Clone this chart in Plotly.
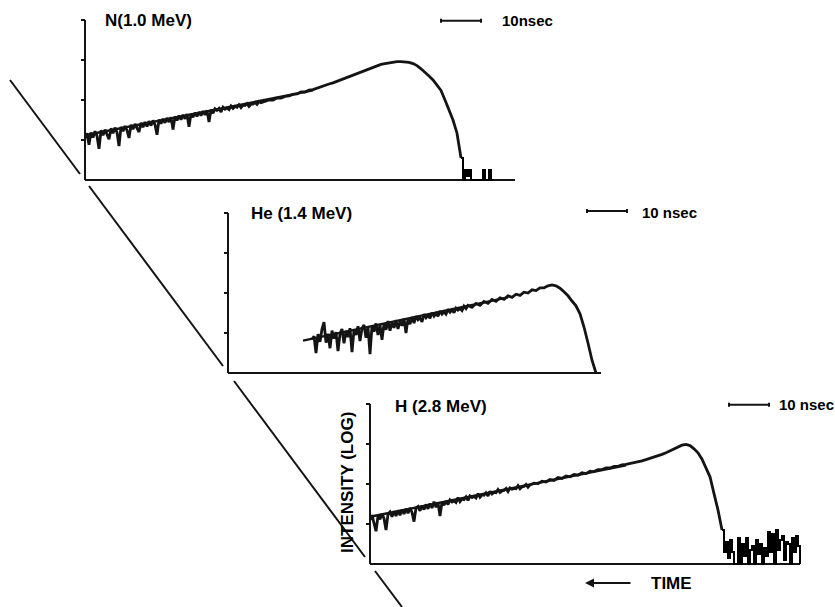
import numpy as np
import plotly.graph_objects as go

W, H = 835, 607

# ---------------------------------------------------------------------------
# Time-of-flight spectra, log intensity (decades) versus time (ns).
# The noisy leading edge is kept in 0.5 ns channels, the rest in 1 ns channels.
# ---------------------------------------------------------------------------
# Nitrogen
n_time = np.concatenate([np.arange(0.0, 45.0, 0.5), np.arange(45, 95)])
n_logI = [
    # 0.0 - 44.5 ns (0.5 ns)
    1.05, 1.17, 0.88, 1.19, 1.06, 1.22, 1.10, 0.78, 1.24, 1.12,
    1.26, 1.14, 1.02, 1.29, 1.17, 1.31, 1.19, 0.85, 1.33, 1.22,
    1.35, 1.24, 1.05, 1.38, 1.27, 1.40, 1.29, 1.20, 1.43, 1.32,
    1.45, 1.34, 1.47, 1.36, 1.49, 1.38, 1.13, 1.51, 1.41, 1.53,
    1.43, 1.55, 1.45, 1.57, 1.26, 1.59, 1.49, 1.61, 1.51, 1.63,
    1.53, 1.65, 1.33, 1.66, 1.57, 1.68, 1.59, 1.70, 1.61, 1.72,
    1.63, 1.74, 1.45, 1.76, 1.67, 1.78, 1.74, 1.79, 1.70, 1.82,
    1.77, 1.80, 1.76, 1.85, 1.79, 1.84, 1.82, 1.88, 1.81, 1.87,
    1.86, 1.91, 1.84, 1.90, 1.90, 1.94, 1.89, 1.96, 1.93, 1.95,
    # 45 - 94 ns (1 ns)
    1.96, 2.00, 2.00, 2.05, 2.05, 2.09, 2.10, 2.14, 2.15, 2.20,
    2.20, 2.25, 2.26, 2.30, 2.33, 2.36, 2.40, 2.43, 2.47, 2.51,
    2.55, 2.59, 2.63, 2.67, 2.71, 2.75, 2.79, 2.83, 2.86, 2.89,
    2.91, 2.93, 2.95, 2.96, 2.96, 2.95, 2.94, 2.91, 2.86, 2.78,
    2.70, 2.60, 2.50, 2.38, 2.24, 2.00, 1.75, 1.50, 1.17, 0.55,
]
# background after the cut-off
n_tail_time = np.arange(94.0, 102.01, 0.5)
n_tail_logI = [0.55, 0.0, 0.25, 0.10, 0.25, 0.0, 0.0, 0.0, 0.0,
               0.0, 0.0, 0.25, 0.0, 0.0, 0.25, 0.0, 0.0]

# Helium
he_time = np.concatenate([np.arange(21.0, 60.0, 0.5), np.arange(60, 93)])
he_logI = [
    # 21.0 - 59.5 ns (0.5 ns)
    0.84, 0.92, 0.50, 0.97, 0.78, 1.10, 1.27, 0.76, 0.98, 0.62,
    1.06, 0.86, 1.02, 0.55, 0.98, 1.10, 0.74, 1.05, 0.90, 1.12,
    0.52, 1.07, 0.95, 1.17, 0.80, 1.12, 1.20, 0.88, 1.15, 0.47,
    1.18, 1.03, 1.24, 0.95, 1.20, 0.83, 1.23, 1.08, 1.30, 1.06,
    1.26, 1.13, 1.32, 1.10, 1.30, 1.18, 1.36, 1.00, 1.36, 1.22,
    1.40, 1.25, 1.42, 1.33, 1.38, 1.28, 1.47, 1.38, 1.44, 1.37,
    1.51, 1.42, 1.49, 1.42, 1.55, 1.47, 1.53, 1.47, 1.59, 1.52,
    1.58, 1.51, 1.62, 1.57, 1.61, 1.56, 1.67, 1.61,
    # 60 - 92 ns (1 ns)
    1.69, 1.64, 1.74, 1.69, 1.79, 1.74, 1.84, 1.79, 1.88, 1.84,
    1.93, 1.89, 1.97, 1.94, 2.02, 2.00, 2.08, 2.06, 2.13, 2.13,
    2.18, 2.20, 2.18, 2.12, 2.03, 1.93, 1.80, 1.68, 1.48, 1.15,
    0.75, 0.32, 0.0,
]

# Hydrogen
h_time = np.concatenate([np.arange(0.0, 40.0, 0.5), np.arange(40, 89)])
h_logI = [
    # 0.0 - 39.5 ns (0.5 ns)
    1.10, 1.22, 1.02, 0.82, 1.20, 1.12, 1.26, 1.14, 0.85, 1.24,
    1.30, 1.18, 1.32, 1.20, 1.34, 1.22, 1.36, 1.25, 1.38, 1.27,
    1.40, 1.29, 1.06, 1.40, 1.44, 1.33, 1.46, 1.36, 1.49, 1.38,
    1.51, 1.40, 1.56, 1.42, 1.54, 1.20, 1.55, 1.47, 1.57, 1.49,
    1.60, 1.55, 1.58, 1.54, 1.66, 1.56, 1.62, 1.61, 1.68, 1.59,
    1.70, 1.66, 1.69, 1.65, 1.76, 1.67, 1.73, 1.72, 1.78, 1.70,
    1.82, 1.75, 1.79, 1.78, 1.86, 1.79, 1.83, 1.84, 1.89, 1.81,
    1.90, 1.87, 1.89, 1.88, 1.96, 1.88, 1.93, 1.94, 1.99, 1.92,
    # 40 - 88 ns (1 ns)
    1.98, 2.02, 2.01, 2.07, 2.05, 2.11, 2.09, 2.16, 2.14, 2.20,
    2.18, 2.24, 2.22, 2.28, 2.26, 2.32, 2.31, 2.36, 2.36, 2.40,
    2.40, 2.44, 2.44, 2.48, 2.49, 2.51, 2.53, 2.56, 2.58, 2.61,
    2.64, 2.67, 2.70, 2.74, 2.78, 2.83, 2.88, 2.93, 2.97, 2.99,
    2.96, 2.88, 2.78, 2.62, 2.42, 2.18, 1.76, 1.35, 0.85,
]
h_tail_time = np.arange(88.0, 107.51, 0.5)
h_tail_logI = [
    0.85, 0.30, 0.55, 0.15, 0.60, 0.30, 0.0, 0.0, 0.65, 0.0,
    0.50, 0.20, 0.65, 0.0, 0.35, 0.45, 0.0, 0.60, 0.25, 0.50,
    0.0, 0.40, 0.20, 0.80, 0.30, 0.75, 0.0, 0.85, 0.35, 0.60,
    0.70, 0.10, 0.55, 0.50, 0.0, 0.65, 0.30, 0.70, 0.45, 0.0,
]

# Straight-line fits over the rising part: (t_start, t_end), (logI_start, logI_end)
n_fit_t, n_fit_y = [0, 57], [1.12, 2.24]
he_fit_t, he_fit_y = [18.75, 70], [0.81, 1.89]
h_fit_t, h_fit_y = [0, 64], [1.18, 2.47]

panel_titles = ["N(1.0 MeV)", "He (1.4 MeV)", "H (2.8 MeV)"]
scale_labels = ["10nsec", "10 nsec", "10 nsec"]
axis_lengths_ns = [107.5, 93.25, 107.5]
decade_ticks = [1, 2, 3, 4]
scale_bar_ns = 10

# ---------------------------------------------------------------------------
# Layout geometry (pixels): y-axis position and baseline of each panel
# ---------------------------------------------------------------------------
PX_PER_NS = 4.0
PX_PER_DECADE = 40.0
panel_axis_x = [85, 228, 370]
panel_base_y = [180, 373, 564]
title_pos = [(4.5, 4.0), (5.25, 4.0), (5.75, 3.93)]
scale_bar_pos = [(89.0, 3.98), (89.75, 4.05), (89.75, 3.98)]
scale_text_pos = [(103.75, 4.0), (103.0, 4.02), (101.75, 4.0)]

INK = "#141414"
FONT = "Liberation Sans"

traces = [
    (n_time, n_logI, n_tail_time, n_tail_logI, n_fit_t, n_fit_y),
    (he_time, he_logI, None, None, he_fit_t, he_fit_y),
    (h_time, h_logI, h_tail_time, h_tail_logI, h_fit_t, h_fit_y),
]

fig = go.Figure()
layout = dict(
    width=W, height=H, margin=dict(l=0, r=0, t=0, b=0),
    paper_bgcolor="white", plot_bgcolor="white", showlegend=False,
)
annotations = []
shapes = []

for i in range(3):
    sfx = "" if i == 0 else str(i + 1)
    xname, yname = "x" + sfx, "y" + sfx
    ax_x, base = panel_axis_x[i], panel_base_y[i]
    pad_ns, pad_dec = 3.0, 0.25
    left_px = ax_x - pad_ns * PX_PER_NS
    layout["xaxis" + sfx] = dict(
        domain=[left_px / W, 1.0],
        range=[-pad_ns, (W - ax_x) / PX_PER_NS],
        visible=False, anchor=yname, fixedrange=True,
    )
    top_px = base - (4 + pad_dec) * PX_PER_DECADE
    bot_px = base + pad_dec * PX_PER_DECADE
    layout["yaxis" + sfx] = dict(
        domain=[1 - bot_px / H, 1 - top_px / H],
        range=[-pad_dec, 4 + pad_dec],
        visible=False, anchor=xname, fixedrange=True,
    )

    common = dict(xaxis=xname, yaxis=yname, hoverinfo="skip", mode="lines")

    # axes: vertical log-intensity axis with decade ticks, horizontal time axis
    tx, ty = [], []
    for d in decade_ticks:
        tx += [-1.0, 0.0, None]
        ty += [d, d, None]
    fig.add_trace(go.Scatter(x=[0, 0], y=[0, 4], line=dict(color=INK, width=2), **common))
    fig.add_trace(go.Scatter(x=tx, y=ty, line=dict(color=INK, width=2), **common))
    fig.add_trace(go.Scatter(x=[0, axis_lengths_ns[i]], y=[0, 0],
                             line=dict(color=INK, width=2.2), **common))

    t, v, tt, tv, ft, fv = traces[i]
    fig.add_trace(go.Scatter(x=t, y=v, line=dict(color=INK, width=2.8), **common))
    if tt is not None:
        fig.add_trace(go.Scatter(x=tt, y=tv, line=dict(color="black", width=2.0, shape="hv"), **common))
    fig.add_trace(go.Scatter(x=ft, y=fv, line=dict(color=INK, width=2.4), **common))

    # 10 ns scale bar
    sx, sy = scale_bar_pos[i]
    fig.add_trace(go.Scatter(
        x=[sx, sx + scale_bar_ns, None, sx, sx, None, sx + scale_bar_ns, sx + scale_bar_ns],
        y=[sy, sy, None, sy - 0.05, sy + 0.05, None, sy - 0.05, sy + 0.05],
        line=dict(color=INK, width=2), **common))

    annotations.append(dict(
        x=title_pos[i][0], y=title_pos[i][1], xref=xname, yref=yname,
        text=panel_titles[i], showarrow=False, xanchor="left", yanchor="middle",
        font=dict(family=FONT, size=17, color="black", weight="bold"),
    ))
    annotations.append(dict(
        x=scale_text_pos[i][0], y=scale_text_pos[i][1], xref=xname, yref=yname,
        text=scale_labels[i], showarrow=False, xanchor="left", yanchor="middle",
        font=dict(family=FONT, size=15, color="black", weight="bold"),
    ))

# long diagonal guide line through the panel origins (drawn in pieces)
diag_segments = [((10, 80), (80, 174)), ((89, 186), (223, 366)),
                 ((234, 381), (365, 557)), ((375, 571), (402, 607))]
for (x0, y0), (x1, y1) in diag_segments:
    shapes.append(dict(type="line", xref="paper", yref="paper",
                       x0=x0 / W, y0=1 - y0 / H, x1=x1 / W, y1=1 - y1 / H,
                       line=dict(color=INK, width=2)))

annotations.append(dict(
    x=347 / W, y=1 - 483 / H, xref="paper", yref="paper",
    xanchor="center", yanchor="middle",
    text="INTENSITY (LOG)", textangle=-90, showarrow=False,
    font=dict(family=FONT, size=17, color="black", weight="bold"),
))
annotations.append(dict(
    x=671.5 / W, y=1 - 583 / H, xref="paper", yref="paper",
    xanchor="center", yanchor="middle",
    text="TIME", showarrow=False,
    font=dict(family=FONT, size=17, color="black", weight="bold"),
))
annotations.append(dict(
    x=585 / W, y=1 - 583 / H, xref="paper", yref="paper",
    text="", showarrow=True, ax=47, ay=0,
    arrowhead=2, arrowsize=0.9, arrowwidth=2, arrowcolor=INK,
))

layout["annotations"] = annotations
layout["shapes"] = shapes
fig.update_layout(**layout)
fig.write_html("out.html")
